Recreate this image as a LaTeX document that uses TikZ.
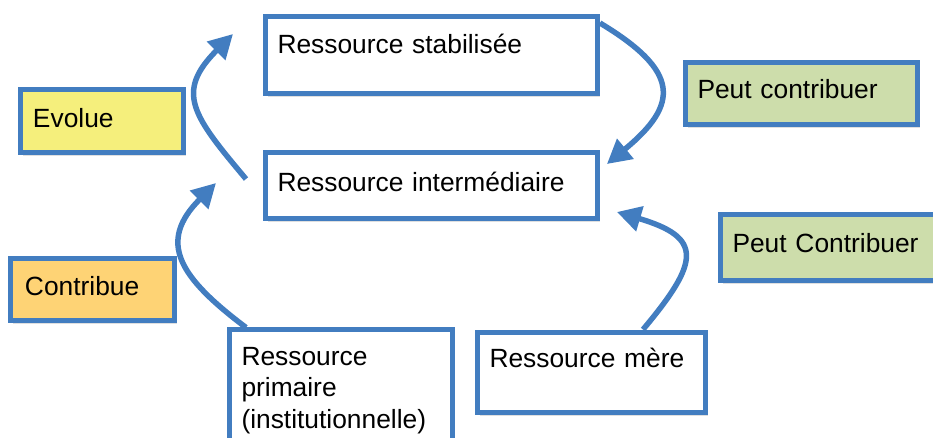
\documentclass[tikz,border=0pt]{standalone}
\usepackage{fontspec}
\setmainfont{Liberation Sans}
\usepackage{xcolor}
\usepackage{tikz}
\usetikzlibrary{arrows.meta,shadows}
\definecolor{bleu}{RGB}{66,125,192}
\definecolor{jaune}{RGB}{245,239,124}
\definecolor{orangeclair}{RGB}{254,211,117}
\definecolor{vert}{RGB}{205,221,171}

\begin{document}
\begin{tikzpicture}[x=0.02cm, y=-0.02cm,
    bloc/.style={draw=bleu, line width=0.1cm, fill=white, anchor=north west,
      align=left, inner xsep=0.24cm, inner ysep=0pt, outer sep=0pt,
      font=\fontsize{15}{18}\selectfont,
      drop shadow={shadow xshift=0.05cm, shadow yshift=-0.07cm, opacity=0.25}},
    fleche/.style={draw=bleu, line width=0.11cm,
      -{Triangle[length=0.48cm, width=0.5cm]}}]
            \useasboundingbox (0,0) rectangle (933,437);
            \clip (0,0) rectangle (933,437);

            \node[bloc, text width=6.16cm, text height=0.75cm, text depth=0.79cm]
              (stabilisee) at (265.5,16.5) {Ressource stabilisée};
            \node[bloc, text width=6.16cm, text height=0.77cm, text depth=0.55cm]
              (intermediaire) at (265.5,152.5) {Ressource intermédiaire};

            \node[bloc, fill=jaune, inner xsep=0.25cm, text width=2.76cm,
              text height=0.77cm, text depth=0.49cm]
              (evolue) at (20.5,89.5) {Evolue};
            \node[bloc, fill=orangeclair, inner xsep=0.29cm, text width=2.70cm,
              text height=0.73cm, text depth=0.51cm]
              (contribue) at (10.5,258.5) {Contribue};

            \node[bloc, fill=vert, text width=4.16cm, text height=0.73cm, text depth=0.51cm]
              (peutA) at (685.5,62.5) {Peut contribuer};
            \node[bloc, fill=vert, text width=4.0cm, text height=0.75cm, text depth=0.57cm]
              (peutB) at (720.5,214.5) {Peut Contribuer};

            \node[bloc, text width=3.98cm, text height=0.71cm, text depth=2.4cm]
              (primaire) at (229.5,329.5) {Ressource\\primaire\\(institutionnelle)};
            \node[bloc, text width=4.08cm, text height=0.69cm, text depth=0.91cm]
              (mere) at (477.5,332.5) {Ressource mère};

            \draw[fleche] ([shift={(-19.5,26.5)}]intermediaire.north west)
              to[out=130, in=225, looseness=1.45] ([shift={(-32.5,17.5)}]stabilisee.north west);
            \draw[fleche] ([shift={(16.5,-2)}]primaire.north west)
              to[out=143, in=225, looseness=1.45] ([shift={(-49.5,30.5)}]intermediaire.north west);
            \draw[fleche] ([shift={(2.5,6.5)}]stabilisee.north east)
              to[out=-31, in=39.5, looseness=1.7] ([shift={(9.5,11.5)}]intermediaire.north east);
            \draw[fleche] ([shift={(165.5,-3)}]mere.north west)
              to[out=50, in=-16.5, looseness=1.9] ([shift={(19.5,-6.5)}]intermediaire.south east);
        \end{tikzpicture}
\end{document}
